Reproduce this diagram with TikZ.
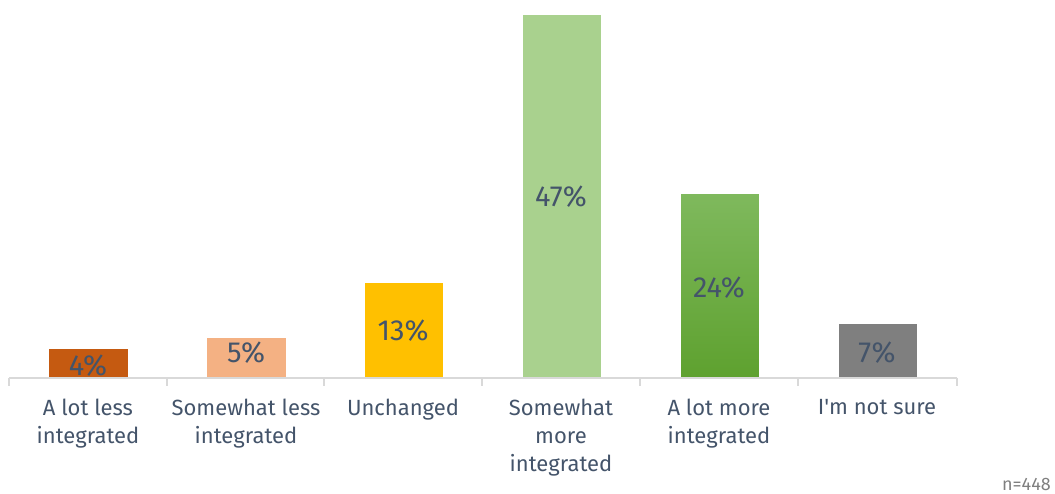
\documentclass[tikz,border=0pt]{standalone}
\usepackage{fontspec}
\setmainfont{Fira Sans}[Ligatures=TeXOff]
\usepackage{xcolor}
\definecolor{darkorange}{HTML}{C55A11}
\definecolor{lightorange}{HTML}{F4B183}
\definecolor{gold}{HTML}{FFC000}
\definecolor{lightgreen}{HTML}{A9D18E}
\definecolor{greentop}{HTML}{7FB95D}
\definecolor{greenbottom}{HTML}{5EA12F}
\definecolor{midgray}{HTML}{7F7F7F}
\definecolor{axisgray}{HTML}{D9D9D9}
\definecolor{slate}{HTML}{44546A}

\begin{document}
\begin{tikzpicture}[x=1pt, y=-1pt,
  bar/.style={draw=white, line width=0.6pt},
  pct/.style={text=slate, font=\fontsize{29}{34}\selectfont, inner sep=0pt},
  cat/.style={text=slate, font=\fontsize{22}{28}\selectfont, align=center, anchor=north, inner sep=0pt}]
 \useasboundingbox (0,0) rectangle (1055,493);

 \coordinate (L) at (9,378);
 \coordinate (R) at (957,378);

 % bars
 \draw[bar, fill=darkorange] (48,378) rectangle (128,348);
 \draw[bar, fill=lightorange] (206,378) rectangle (286,337);
 \draw[bar, fill=gold] (364,378) rectangle (443,282);
 \draw[bar, fill=lightgreen] (522,378) rectangle (601,14);
 \draw[bar, top color=greentop, bottom color=greenbottom] (680,378) rectangle (759,193);
 \draw[bar, fill=midgray] (838,378) rectangle (917,323);

 % axis
 \draw[axisgray, line width=1.5pt] (L) -- (R);
 \foreach \x in {9,167,324,482,640,798,957}
   \draw[axisgray, line width=1.2pt] (\x,378) -- (\x,386);

 % values
 \node[pct] (v1) at (88,366) {4\%};
 \node[pct] (v2) at (246,353) {5\%};
 \node[pct] (v3) at (403,331) {13\%};
 \node[pct] (v4) at (561,197) {47\%};
 \node[pct] (v5) at (719,288) {24\%};
 \node[pct] (v6) at (877,353) {7\%};

 % categories
 \node[cat] (c1) at (88,399) {A lot less\\integrated};
 \node[cat] (c2) at (246,399) {Somewhat less\\integrated};
 \node[cat] (c3) at (403,399) {Unchanged};
 \node[cat] (c4) at (561,399) {Somewhat\\more\\integrated};
 \node[cat] (c5) at (719,399) {A lot more\\integrated};
 \node[cat] (c6) at (877,399) {I'm not sure};

 \node[text=midgray, font=\fontsize{18}{21}\selectfont, anchor=east, inner sep=0pt] (n) at (1051,484) {n=448};
\end{tikzpicture}
\end{document}
